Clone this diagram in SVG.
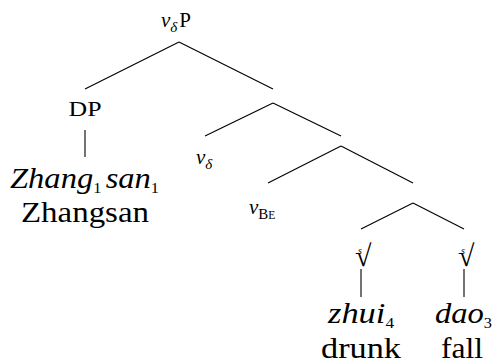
<svg xmlns="http://www.w3.org/2000/svg" width="493" height="363" viewBox="0 0 493 363">
<style>
text{font-family:"Liberation Serif","Times New Roman",serif;fill:#000}
.lab{font-size:21px}
.leaf{font-size:30px}
.it{font-style:italic}
.sub{font-size:15px}
.rad{font-size:30px}
.edges line{stroke:#000;stroke-width:1.1}
</style>
<rect width="493" height="363" fill="#fff"/>
<g class="edges" id="connectors">
<line x1="179" y1="42" x2="85" y2="89"/>
<line x1="179" y1="42" x2="273" y2="89"/>
<line x1="273" y1="103" x2="205" y2="136"/>
<line x1="273" y1="103" x2="341" y2="136"/>
<line x1="341" y1="146" x2="268" y2="183"/>
<line x1="341" y1="146" x2="413" y2="183"/>
<line x1="413" y1="203" x2="361" y2="229"/>
<line x1="413" y1="203" x2="464" y2="229"/>
<line x1="85" y1="130" x2="85" y2="157"/>
<line x1="361" y1="269" x2="361" y2="297"/>
<line x1="464" y1="269" x2="464" y2="297"/>
</g>
<g id="vdeltaP">
<text class="lab" x="161" y="27"><tspan class="it">v</tspan><tspan class="sub it" dy="5">δ</tspan><tspan dy="-5" dx="2">P</tspan></text>
</g>
<g id="DP">
<text class="lab" x="85" y="116" text-anchor="middle" textLength="33" lengthAdjust="spacingAndGlyphs">DP</text>
</g>
<g id="Zhangsan">
<text class="leaf" x="10" y="188" textLength="149" lengthAdjust="spacingAndGlyphs"><tspan class="it">Zhang</tspan><tspan class="sub" dy="5">1</tspan><tspan class="it" dy="-5" dx="4">san</tspan><tspan class="sub" dy="5">1</tspan></text>
<text class="leaf" x="21" y="222" textLength="128" lengthAdjust="spacingAndGlyphs">Zhangsan</text>
</g>
<g id="vdelta">
<text class="lab" x="196" y="164"><tspan class="it">v</tspan><tspan class="sub it" dy="5">δ</tspan></text>
</g>
<g id="vBe">
<text class="lab" x="249" y="214"><tspan class="it">v</tspan><tspan class="sub" dy="5">B</tspan><tspan style="font-size:11.5px">E</tspan></text>
</g>
<g id="root1">
<text x="355" y="254"><tspan class="it" style="font-size:10px">s</tspan><tspan class="rad" dx="-7" dy="12">√</tspan></text>
<text class="leaf" x="328" y="323" textLength="66" lengthAdjust="spacingAndGlyphs"><tspan class="it">zhui</tspan><tspan class="sub" dy="5">4</tspan></text>
<text class="leaf" x="321" y="358" textLength="80" lengthAdjust="spacingAndGlyphs">drunk</text>
</g>
<g id="root2">
<text x="458" y="254"><tspan class="it" style="font-size:10px">s</tspan><tspan class="rad" dx="-7" dy="12">√</tspan></text>
<text class="leaf" x="435" y="323" textLength="57" lengthAdjust="spacingAndGlyphs"><tspan class="it">dao</tspan><tspan class="sub" dy="5">3</tspan></text>
<text class="leaf" x="441" y="358" textLength="42" lengthAdjust="spacingAndGlyphs">fall</text>
</g>
</svg>
